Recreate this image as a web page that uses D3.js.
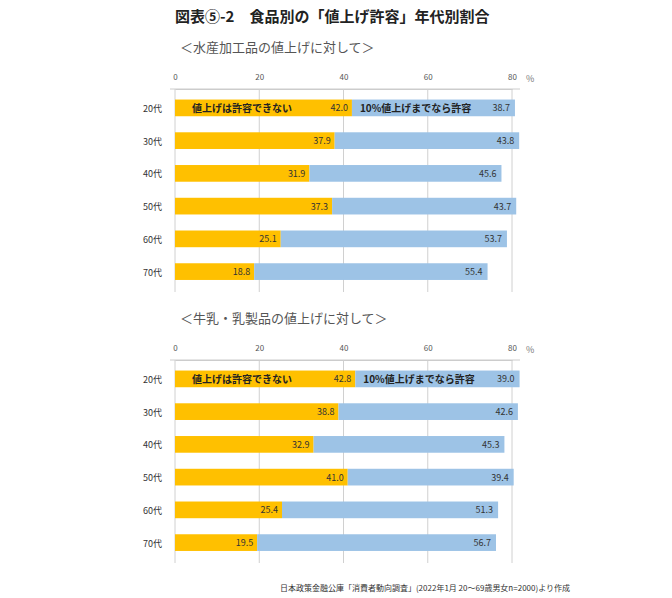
<!DOCTYPE html>
<html><head><meta charset="utf-8">
<script src="https://cdn.jsdelivr.net/npm/d3@7"></script>
<style>body{margin:0;background:#fff}text{font-family:"Noto Sans CJK JP",sans-serif}</style>
</head><body>
<svg id="c" width="672" height="598"></svg>
<script>
// data
const ages = ["20代", "30代", "40代", "50代", "60代", "70代"];
const fishNo = [42.0, 37.9, 31.9, 37.3, 25.1, 18.8];
const fishOk = [38.7, 43.8, 45.6, 43.7, 53.7, 55.4];
const milkNo = [42.8, 38.8, 32.9, 41.0, 25.4, 19.5];
const milkOk = [39.0, 42.6, 45.3, 39.4, 51.3, 56.7];
const ticks = [0, 20, 40, 60, 80];

const svg = d3.select("#c");
const x = d3.scaleLinear().domain([0, 80]).range([175, 512]);

svg.append("text").attr("x", 175).attr("y", 22).attr("font-size", 15).attr("font-weight", "bold")
    .attr("fill", "#222").text("図表⑤-2　食品別の「値上げ許容」年代別割合");

function panel(top, title, no, ok) {
    const g = svg.append("g");
    const y = d3.scaleBand().domain(ages).range([top + 31.5, top + 244]).padding(0.49);
    g.append("text").attr("x", 180).attr("y", top).attr("font-size", 13).attr("fill", "#555").text(title);
    const axis = g.append("g").attr("transform", `translate(0,${top + 37})`)
        .call(d3.axisTop(x).tickValues(ticks).tickSize(0).tickPadding(9));
    axis.select(".domain").attr("stroke", "#ccc");
    axis.selectAll("text").attr("font-size", 8).attr("fill", "#555").attr("font-family", "Liberation Sans");
    g.append("text").attr("x", 526).attr("y", top + 30).attr("font-size", 9).attr("fill", "#777").text("%");
    g.selectAll(".grid").data(ticks).join("line")
        .attr("x1", x).attr("x2", x).attr("y1", top + 37).attr("y2", top + 240)
        .attr("stroke", "#d0d0d0");
    g.append("line").attr("x1", 170).attr("x2", 520).attr("y1", top + 37).attr("y2", top + 37).attr("stroke", "#ccc");
    ages.forEach((a, i) => {
        const yy = y(a), h = y.bandwidth();
        g.append("rect").attr("x", x(0)).attr("y", yy).attr("width", x(no[i]) - x(0)).attr("height", h).attr("fill", "#FFC000");
        g.append("rect").attr("x", x(no[i])).attr("y", yy).attr("width", x(no[i] + ok[i]) - x(no[i])).attr("height", h).attr("fill", "#9DC3E6");
        g.append("text").attr("x", 162).attr("y", yy + h / 2 + 4).attr("text-anchor", "end").attr("font-size", 9).attr("fill", "#333").text(a);
        g.append("text").attr("x", x(no[i]) - 4).attr("y", yy + h / 2 + 3.5).attr("text-anchor", "end").attr("font-size", 9).attr("fill", "#333").text(no[i].toFixed(1));
        g.append("text").attr("x", x(no[i] + ok[i]) - 5).attr("y", yy + h / 2 + 3.5).attr("text-anchor", "end").attr("font-size", 9).attr("fill", "#333").text(ok[i].toFixed(1));
        if (i === 0) {
            g.append("text").attr("x", 192).attr("y", yy + h / 2 + 4).attr("font-size", 10).attr("font-weight", "bold").attr("fill", "#222").text("値上げは許容できない");
            g.append("text").attr("x", x(no[i]) + 8).attr("y", yy + h / 2 + 4).attr("font-size", 10).attr("font-weight", "bold").attr("fill", "#222").text("10%値上げまでなら許容");
        }
    });
}
panel(52, "＜水産加工品の値上げに対して＞", fishNo, fishOk);
panel(323, "＜牛乳・乳製品の値上げに対して＞", milkNo, milkOk);

svg.append("text").attr("x", 570).attr("y", 591).attr("text-anchor", "end").attr("font-size", 8).attr("fill", "#333")
    .text("日本政策金融公庫「消費者動向調査」(2022年1月 20～69歳男女n=2000)より作成");
</script>
</body></html>
